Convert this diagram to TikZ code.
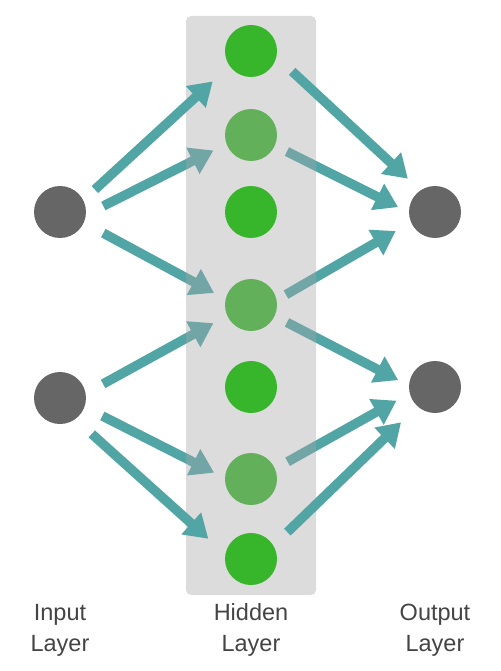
\documentclass[tikz,border=0pt]{standalone}
\usepackage{fontspec}
\setmainfont{Liberation Sans}
\usepackage{tikz}
\usetikzlibrary{arrows.meta,calc,positioning}
\definecolor{myteal}{HTML}{52A5A5}
\definecolor{mybox}{HTML}{A6A6A6}
\definecolor{mygray}{HTML}{666666}
\definecolor{mygreen}{HTML}{37B52B}
\definecolor{mypale}{HTML}{63B05B}
\definecolor{mytext}{HTML}{444444}
\pgfdeclarelayer{fadelayer}
\pgfdeclarelayer{boxlayer}
\pgfsetlayers{fadelayer,boxlayer,main}
\tikzset{
    mynode/.style={circle,inner sep=0pt,minimum size=52pt},
    myio/.style={mynode,fill=mygray},
    myon/.style={mynode,fill=mygreen},
    myoff/.style={mynode,fill=mypale},
    myedge/.style={line width=9.5pt,draw=myteal,-{Triangle[length=23pt,width=28pt]}},
    mylabel/.style={align=center,text=mytext,font=\fontsize{23.5}{31}\selectfont}
}
\begin{document}
\begin{tikzpicture}[x=1pt,y=-1pt]
  \useasboundingbox (0,0) rectangle (500,671);

  % layers
  \node[myio] (in1) at (60,212) {};
  \node[myio] (in2) at (60,398) {};
  \node[myon]  (h1) at (251,51) {};
  \node[myoff] (h2) at (251,135) {};
  \node[myon]  (h3) at (251,212) {};
  \node[myoff] (h4) at (251,305) {};
  \node[myon]  (h5) at (251,387) {};
  \node[myoff] (h6) at (251,479) {};
  \node[myon]  (h7) at (251,559) {};
  \node[myio] (out1) at (435,212) {};
  \node[myio] (out2) at (435,387) {};

  \begin{pgfonlayer}{boxlayer}
    \fill[mybox,fill opacity=0.393,rounded corners=5pt] (186,16) rectangle (316,595);
  \end{pgfonlayer}

  % edges into or out of the pale units sit under the box
  \begin{pgfonlayer}{fadelayer}
    \foreach \a/\p/\b/\q/\s/\e in {in1/-6/h2/200/19.3/14.5, in1/-24/h4/167/22/13,
        in2/10/h4/204/19.7/15.6, in2/-20/h6/178/19.9/12,
        h2/-24/out1/181/13.4/12, h4/11/out1/203/10.7/17.5,
        h4/-25/out2/177/13.8/12, h6/23/out2/194/14.3/15}{
      \draw[myedge,shorten <=\s pt,shorten >=\e pt] (\a.\p) -- (\b.\q);
    }
  \end{pgfonlayer}

  \foreach \a/\p/\b/\q/\s/\e in {in1/27/h1/215/15.6/22.8, in2/-54/h7/169/22/22.8,
      h1/-13/out1/124/21.3/17, h7/31/out2/228/19.3/22.8}{
    \draw[myedge,shorten <=\s pt,shorten >=\e pt] (\a.\p) -- (\b.\q);
  }

  \node[mylabel] (lblin)  at (60,630)  {Input\\Layer};
  \node[mylabel] (lblhid) at (251,630) {Hidden\\Layer};
  \node[mylabel] (lblout) at (435,630) {Output\\Layer};
\end{tikzpicture}
\end{document}
